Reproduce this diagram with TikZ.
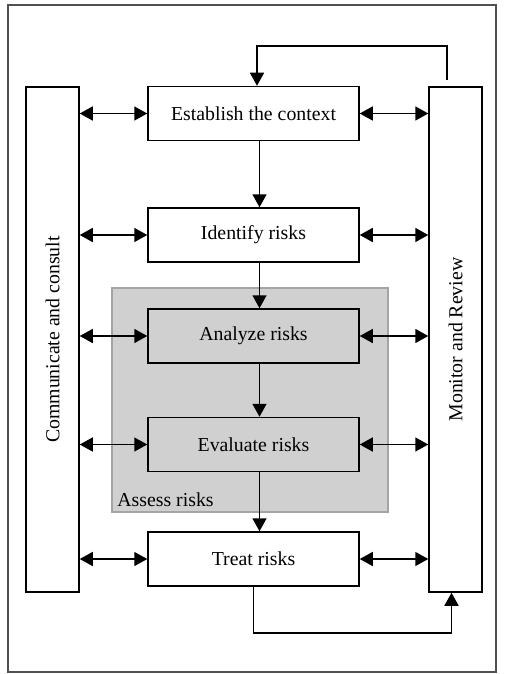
\documentclass[tikz,border=0pt]{standalone}
\usepackage{fontspec}
\setmainfont{Liberation Serif}
\usepackage{tikz}
\definecolor{assessfill}{HTML}{D0D0D0}
\definecolor{assessline}{HTML}{A4A4A4}
\definecolor{frameline}{HTML}{505050}
\usetikzlibrary{arrows.meta}
\usetikzlibrary{positioning}

\begin{document}
\begin{tikzpicture}[x=0.5pt, y=-0.5pt]
    \tikzset{stage/.style={
      rectangle,
      draw,
      line width=.75pt,
      minimum width=105.5pt,
      minimum height=27pt,
      inner sep=0pt,
      font=\fontsize{9.9}{12}\selectfont},
      column/.style={
      rectangle,
      draw,
      line width=.75pt,
      minimum width=26.5pt,
      minimum height=252.5pt,
      inner sep=0pt,
      font=\fontsize{9.9}{12}\selectfont},
      arr/.style={line width=.75pt, -{Triangle[length=6.5pt,width=7pt]}},
      darr/.style={line width=.75pt, {Triangle[length=6.5pt,width=7pt]}-{Triangle[length=6.5pt,width=7pt]}}}
    \useasboundingbox (0, 0) rectangle (504, 674);
    \draw[frameline, line width=.8pt] (8, 5) rectangle (496, 672);
    \draw[assessline, fill=assessfill, line width=1pt] (112, 288) rectangle (388, 512);
    \node[anchor=south west, inner sep=2.5pt, font=\fontsize{9.9}{12}\selectfont] at (112, 512) (assess) {Assess risks};
    \node[stage, fill=white] at (253.5, 113.5) (est) {Establish the context};
    \node[stage, fill=white] at (253.5, 235) (ide) {Identify risks};
    \node[stage] at (253.5, 336) (ana) {Analyze risks};
    \node[stage] at (253.5, 444.5) (eva) {Evaluate risks};
    \node[stage, fill=white] at (253.5, 559) (tre) {Treat risks};
    \node[column] at (52.5, 339.5) (com) {};
    \node[column] at (455.5, 339.5) (mon) {};
    \node[rotate=90, font=\fontsize{9.9}{12}\selectfont] at (com.center) {Communicate and consult};
    \node[rotate=90, font=\fontsize{9.9}{12}\selectfont] at (mon.center) {Monitor and Review};
    \draw[arr] ([xshift=3pt]est.south) -- ([xshift=3pt]ide.north);
    \draw[arr] ([xshift=3pt]ide.south) -- ([xshift=3pt]ana.north);
    \draw[arr] ([xshift=3pt]ana.south) -- ([xshift=3pt]eva.north);
    \draw[arr] ([xshift=3pt]eva.south) -- ([xshift=3pt]tre.north);
    \foreach \s in {est, ide, ana, eva, tre} {
      \draw[darr] (com.east |- \s.west) -- (\s.west);
      \draw[darr] (\s.east) -- (mon.west |- \s.east);
    }
    \coordinate (fb) at (447, 80);
    \draw[arr] (fb) |- (257, 46) -- ([xshift=1.75pt]est.north);
    \draw[arr] (tre.south) -- (253.5, 633) -| ([xshift=-2pt]mon.south);
  \end{tikzpicture}
\end{document}
